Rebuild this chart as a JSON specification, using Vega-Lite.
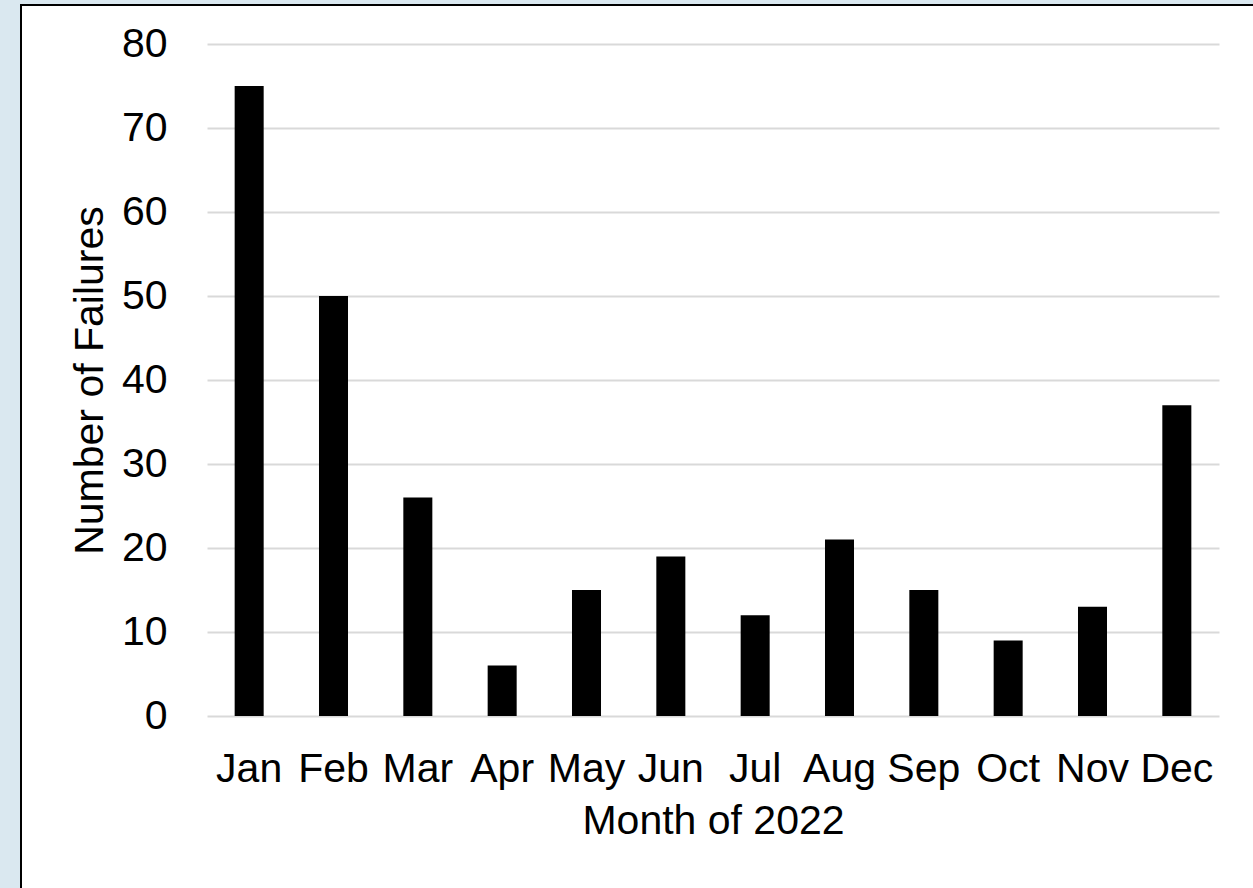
{
  "$schema": "https://vega.github.io/schema/vega-lite/v6.json",
  "width": 1234,
  "height": 885,
  "autosize": {"type": "none"},
  "padding": {"left": 21, "top": 5, "right": -2, "bottom": -2},
  "background": "#dae8f0",
  "config": {
    "font": "Liberation Sans",
    "view": {"fill": "white", "stroke": "black", "strokeWidth": 2}
  },
  "data": {
    "values": [
      {"month": "Jan", "failures": 75},
      {"month": "Feb", "failures": 50},
      {"month": "Mar", "failures": 26},
      {"month": "Apr", "failures": 6},
      {"month": "May", "failures": 15},
      {"month": "Jun", "failures": 19},
      {"month": "Jul", "failures": 12},
      {"month": "Aug", "failures": 21},
      {"month": "Sep", "failures": 15},
      {"month": "Oct", "failures": 9},
      {"month": "Nov", "failures": 13},
      {"month": "Dec", "failures": 37}
    ]
  },
  "mark": {"type": "bar", "color": "black"},
  "encoding": {
    "x": {
      "field": "month",
      "type": "nominal",
      "sort": null,
      "scale": {"range": [186, 1198], "paddingInner": 0.656, "paddingOuter": 0.328},
      "axis": {
        "title": "Month of 2022",
        "offset": -174,
        "grid": false,
        "domain": false,
        "ticks": false,
        "tickSize": 0,
        "labelAngle": 0,
        "labelPadding": 33,
        "labelFontSize": 41,
        "labelColor": "black",
        "titleFontSize": 41,
        "titleFontWeight": "normal",
        "titleColor": "black",
        "titlePadding": 12
      }
    },
    "y": {
      "field": "failures",
      "type": "quantitative",
      "scale": {"domain": [0, 80], "range": [711, 39], "nice": false},
      "axis": {
        "title": "Number of Failures",
        "offset": -186,
        "values": [0, 10, 20, 30, 40, 50, 60, 70, 80],
        "grid": true,
        "gridColor": "#d9d9d9",
        "gridWidth": 2,
        "domain": false,
        "ticks": false,
        "tickSize": 0,
        "labelPadding": 40,
        "labelFontSize": 41,
        "labelColor": "black",
        "titleFontSize": 41,
        "titleFontWeight": "normal",
        "titleColor": "black",
        "titlePadding": 10
      }
    }
  }
}
